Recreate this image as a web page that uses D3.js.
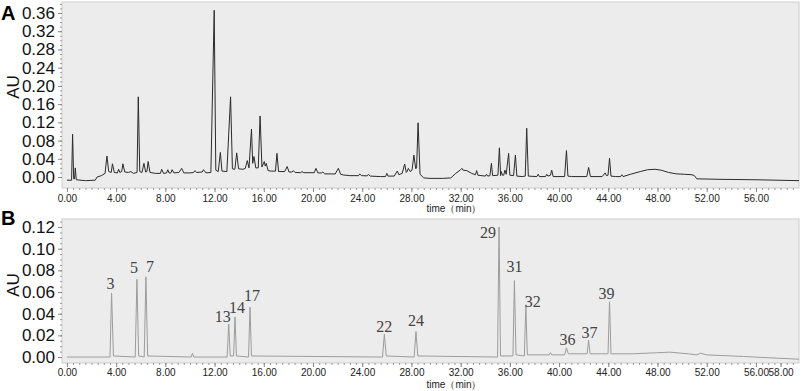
<!DOCTYPE html>
<html>
<head>
<meta charset="utf-8">
<script src="https://cdn.jsdelivr.net/npm/d3@7"></script>
<style>
    body { margin: 0; background: #fff; }
    svg { display: block; font-family: "Liberation Sans", Arial, sans-serif; }
    .yTickText { font-size: 17px; fill: #111; }
    .xTickText { font-size: 10px; fill: #222; }
    .auTitle { font-size: 17px; fill: #111; }
    .panelLetter { font-size: 20px; font-weight: bold; fill: #000; }
    .timeTitle { font-size: 10px; fill: #222; }
    .peakLabel { font-family: "Liberation Serif", "Times New Roman", serif; font-size: 16px; fill: #444; }
</style>
</head>
<body>
<div id="chart"></div>
<script>

// panel A trace: [time (min), AU]
const traceA = [
    [0, -0.007], [0.38, -0.007], [0.46, 0.094], [0.55, -0.004], [0.62, -0.004], [0.68, 0.02], [0.76, -0.006],
    [1.5, -0.008], [2.3, -0.007], [2.45, 0.0], [2.8, 0.003], [3.1, 0.008], [3.25, 0.046], [3.4, 0.012],
    [3.6, 0.01], [3.7, 0.029], [3.85, 0.01], [4.1, 0.009], [4.2, 0.017], [4.3, 0.01], [4.45, 0.012],
    [4.55, 0.029], [4.7, 0.011], [5.0, 0.01], [5.2, 0.012], [5.4, 0.008], [5.7, 0.01], [5.8, 0.176],
    [5.92, 0.012], [6.1, 0.01], [6.26, 0.03], [6.4, 0.011], [6.5, 0.012], [6.6, 0.034], [6.75, 0.01],
    [7.2, 0.008], [7.6, 0.008], [7.7, 0.017], [7.85, 0.008], [8.1, 0.009], [8.2, 0.016], [8.3, 0.009],
    [8.45, 0.009], [8.55, 0.016], [8.7, 0.009], [9.1, 0.01], [9.33, 0.019], [9.5, 0.009], [10.0, 0.009],
    [10.3, 0.01], [10.4, 0.014], [10.55, 0.01], [11.0, 0.011], [11.1, 0.016], [11.3, 0.009], [11.7, 0.01],
    [11.97, 0.366], [12.1, 0.015], [12.3, 0.012], [12.47, 0.054], [12.6, 0.013], [13.0, 0.012], [13.3, 0.176],
    [13.45, 0.018], [13.65, 0.017], [13.8, 0.053], [13.95, 0.018], [14.3, 0.017], [14.5, 0.019], [14.66, 0.036],
    [14.8, 0.02], [15.0, 0.105], [15.1, 0.03], [15.2, 0.045], [15.35, 0.02], [15.55, 0.02], [15.7, 0.134],
    [15.85, 0.022], [16.04, 0.034], [16.12, 0.024], [16.2, 0.03], [16.35, 0.014], [16.6, 0.013], [16.95, 0.013],
    [17.07, 0.052], [17.2, 0.012], [17.7, 0.012], [17.9, 0.023], [18.05, 0.011], [18.3, 0.011], [18.4, 0.014],
    [18.55, 0.01], [19.0, 0.0095], [19.1, 0.012], [19.25, 0.0095], [20.1, 0.0095], [20.24, 0.019], [20.4, 0.009],
    [20.7, 0.009], [20.8, 0.011], [20.95, 0.007], [21.8, 0.0066], [22.06, 0.019], [22.25, 0.006], [22.5, 0.0044],
    [23.0, 0.003], [23.7, 0.003], [23.8, 0.0066], [23.95, 0.003], [24.4, 0.0025], [24.5, 0.006], [24.65, 0.002],
    [25.5, 0.001], [25.9, 0.001], [26.0, 0.008], [26.1, 0.002], [26.6, 0.002], [26.85, 0.013], [26.98, 0.005],
    [27.25, 0.008], [27.45, 0.0285], [27.58, 0.01], [27.65, 0.012], [27.75, 0.019], [27.9, 0.012], [28.05, 0.015],
    [28.2, 0.048], [28.35, 0.018], [28.42, 0.02], [28.54, 0.119], [28.7, 0.006], [29.0, -0.002], [29.5, -0.003],
    [30.5, -0.003], [31.2, -0.002], [31.6, 0.008], [32.0, 0.016], [32.1, 0.019], [32.2, 0.015], [32.5, 0.014],
    [32.9, 0.008], [33.2, 0.005], [33.3, 0.014], [33.4, 0.004], [34.0, 0.002], [34.1, 0.006], [34.2, 0.002],
    [34.38, 0.003], [34.5, 0.03], [34.6, 0.003], [35.03, 0.004], [35.15, 0.064], [35.25, 0.003], [35.3, 0.012],
    [35.4, 0.004], [35.5, 0.004], [35.6, 0.015], [35.7, 0.006], [35.9, 0.052], [36.0, 0.004], [36.3, 0.003],
    [36.45, 0.048], [36.57, 0.002], [37.0, 0.001], [37.25, 0.002], [37.37, 0.107], [37.5, 0.002], [38.2, 0.001],
    [38.3, 0.006], [38.4, 0.001], [38.9, 0.001], [39.0, 0.006], [39.1, 0.002], [39.3, 0.004], [39.4, 0.015],
    [39.52, 0.001], [40.45, 0.001], [40.6, 0.058], [40.72, 0.002], [41.0, 0.001], [42.25, 0.001], [42.4, 0.021],
    [42.55, 0.001], [43.5, 0.001], [43.75, 0.009], [43.85, 0.003], [43.98, 0.004], [44.1, 0.041], [44.22, 0.002],
    [44.6, 0.001], [45.0, 0.001], [45.1, 0.005], [45.2, 0.001], [45.8, 0.006], [46.6, 0.012], [47.2, 0.016],
    [47.8, 0.017], [48.3, 0.015], [48.9, 0.01], [49.5, 0.007], [50.2, 0.006], [50.8, 0.005], [51.0, 0.003],
    [51.2, -0.004], [53.0, -0.005], [56.0, -0.006], [59.5, -0.008]
];

// panel B trace
const traceB = [
    [0, 0], [3.5, 0.0], [3.63, 0.0588], [3.78, 0.001], [5.55, 0.0], [5.69, 0.0717], [5.83, 0.001],
    [6.28, 0.0], [6.42, 0.074], [6.56, 0.001], [10.1, 0.0], [10.2, 0.0035], [10.32, 0.0], [13.02, 0.0],
    [13.15, 0.0305], [13.27, 0.001], [13.55, 0.001], [13.66, 0.037], [13.78, 0.001], [14.76, 0.0],
    [14.88, 0.046], [15.0, 0.001], [25.65, 0.0], [25.8, 0.021], [25.95, 0.001], [28.22, 0.0], [28.37, 0.0234],
    [28.52, 0.001], [35.0, 0.0], [35.12, 0.12], [35.24, 0.001], [36.25, 0.001], [36.37, 0.0705], [36.5, 0.002],
    [37.18, 0.001], [37.3, 0.048], [37.42, 0.002], [39.2, 0.002], [39.3, 0.004], [39.4, 0.002], [40.45, 0.002],
    [40.6, 0.0085], [40.75, 0.003], [42.28, 0.003], [42.4, 0.0155], [42.52, 0.003], [43.98, 0.003],
    [44.1, 0.051], [44.22, 0.003], [46.0, 0.003], [48.0, 0.004], [49.0, 0.0045], [50.5, 0.003], [51.2, 0.002],
    [51.5, 0.0035], [52.0, 0.002], [55.0, 0.0005], [59.5, -0.002]
];

// numbered peaks in panel B
const peakIds = ["3", "5", "7", "13", "14", "17", "22", "24", "29", "31", "32", "36", "37", "39"];
const peakTime = [3.63, 5.69, 6.42, 13.15, 13.66, 14.88, 25.8, 28.37, 35.12, 36.37, 37.3, 40.6, 42.4, 44.1];
const peakAU = [0.0588, 0.0717, 0.074, 0.0305, 0.037, 0.046, 0.021, 0.0234, 0.12, 0.0705, 0.048, 0.0085, 0.0155, 0.051];

// tick values
const yTicksA = [0, 0.04, 0.08, 0.12, 0.16, 0.20, 0.24, 0.28, 0.32, 0.36];
const yTicksB = [0, 0.02, 0.04, 0.06, 0.08, 0.10, 0.12];
const xTicksA = [0, 4, 8, 12, 16, 20, 24, 28, 32, 36, 40, 44, 48, 52, 56];
const xTicksB = [0, 4, 8, 12, 16, 20, 24, 28, 32, 36, 40, 44, 48, 52, 56, 58];


class Chromatogram {

    constructor(_svg, _config, _trace) {
        this.svg = _svg;
        this.config = _config;
        this.trace = _trace;

        this.initVis();
    }

    initVis() {

        let vis = this;
        let c = vis.config;

        vis.left = 62;
        vis.right = 799;

        vis.g = vis.svg.append("g");

        vis.x = d3.scaleLinear()
            .domain([-0.4, 59.5])
            .range([vis.left, vis.right]);

        vis.y = d3.scaleLinear()
            .domain(c.yDomain)
            .range([c.bottom, c.top]);

        // grey plot area
        vis.g.append("rect")
            .attr("x", vis.left)
            .attr("y", c.top)
            .attr("width", vis.right - vis.left)
            .attr("height", c.bottom - c.top)
            .attr("fill", "#ececec")
            .attr("stroke", "#cdcdcd")
            .attr("stroke-width", 1);

        // minor x ticks
        vis.g.append("g")
            .attr("transform", `translate(0, ${c.bottom})`)
            .call(d3.axisBottom(vis.x).tickValues(d3.range(0, 59.5, 0.5)).tickSize(2).tickFormat(""))
            .call(g => g.select(".domain").remove())
            .call(g => g.selectAll("line").attr("stroke", "#999"));

        // major x ticks + labels
        vis.g.append("g")
            .attr("transform", `translate(0, ${c.bottom})`)
            .call(d3.axisBottom(vis.x).tickValues(c.xTicks).tickSize(4).tickFormat(d3.format(".2f")))
            .call(g => g.select(".domain").remove())
            .call(g => g.selectAll("line").attr("stroke", "#888"))
            .call(g => g.selectAll("text")
                .attr("class", "xTickText")
                .attr("y", c.xLabelGap)
                .attr("font-family", null)
                .attr("font-size", null)
                .attr("fill", null));

        // minor y ticks
        vis.g.append("g")
            .attr("transform", `translate(${vis.left}, 0)`)
            .call(d3.axisLeft(vis.y).tickValues(d3.range(0, c.yDomain[1], c.yMinor)).tickSize(2).tickFormat(""))
            .call(g => g.select(".domain").remove())
            .call(g => g.selectAll("line").attr("stroke", "#999"));

        // major y ticks + labels
        vis.g.append("g")
            .attr("transform", `translate(${vis.left}, 0)`)
            .call(d3.axisLeft(vis.y).tickValues(c.yTicks).tickSize(4).tickFormat(d3.format(".2f")))
            .call(g => g.select(".domain").remove())
            .call(g => g.selectAll("line").attr("stroke", "#888"))
            .call(g => g.selectAll("text")
                .attr("class", "yTickText")
                .attr("x", -7)
                .attr("font-family", null)
                .attr("font-size", null)
                .attr("fill", null));

        // AU title
        vis.g.append("text")
            .attr("class", "auTitle")
            .attr("text-anchor", "middle")
            .attr("transform", `translate(18.5, ${c.auY}) rotate(-90)`)
            .text("AU");

        // panel letter
        vis.g.append("text")
            .attr("class", "panelLetter")
            .attr("x", 1)
            .attr("y", c.letterY)
            .text(c.letter);

        // time title
        vis.g.append("text")
            .attr("class", "timeTitle")
            .attr("text-anchor", "middle")
            .attr("x", 454)
            .attr("y", c.timeY)
            .text("time（min）");

        vis.updateVis();
    }

    updateVis() {

        let vis = this;
        let c = vis.config;

        vis.line = d3.line()
            .x(d => vis.x(d[0]))
            .y(d => vis.y(d[1]));

        vis.g.append("path")
            .datum(vis.trace)
            .attr("class", "trace")
            .attr("d", vis.line)
            .attr("fill", "none")
            .attr("stroke", c.lineColor)
            .attr("stroke-width", 1)
            .attr("stroke-linejoin", "round");
    }
}


let svg = d3.select("#chart").append("svg")
    .attr("width", 803)
    .attr("height", 391);

let chartA = new Chromatogram(svg, {
    top: 2, bottom: 188,
    yDomain: [-0.0241, 0.3841],
    yTicks: yTicksA, yMinor: 0.01,
    xTicks: xTicksA, xLabelGap: 7,
    auY: 87, letterY: 20, letter: "A",
    timeY: 212, lineColor: "#2b2b2b"
}, traceA);

let chartB = new Chromatogram(svg, {
    top: 219, bottom: 363,
    yDomain: [-0.0055, 0.1274],
    yTicks: yTicksB, yMinor: 0.005,
    xTicks: xTicksB, xLabelGap: 6,
    auY: 285, letterY: 225, letter: "B",
    timeY: 388, lineColor: "#9c9c9c"
}, traceB);

// peak number labels, nudged like the original annotations
const labelNudge = {
    "3": [-1, -10], "5": [-3, -12], "7": [4, -10], "13": [-6, -7], "14": [2, -9], "17": [2, -12],
    "22": [0, -8], "24": [0, -11], "29": [-11, 5], "31": [0, -14], "32": [7, -4], "36": [1, -8],
    "37": [1, -8], "39": [-3, -8]
};

svg.selectAll(".peakLabel")
    .data(peakIds)
    .enter()
    .append("text")
    .attr("class", "peakLabel")
    .attr("text-anchor", "middle")
    .attr("x", (d, i) => chartB.x(peakTime[i]) + labelNudge[d][0])
    .attr("y", (d, i) => chartB.y(peakAU[i]) + labelNudge[d][1] + 5.5)
    .text(d => d);

</script>
</body>
</html>
